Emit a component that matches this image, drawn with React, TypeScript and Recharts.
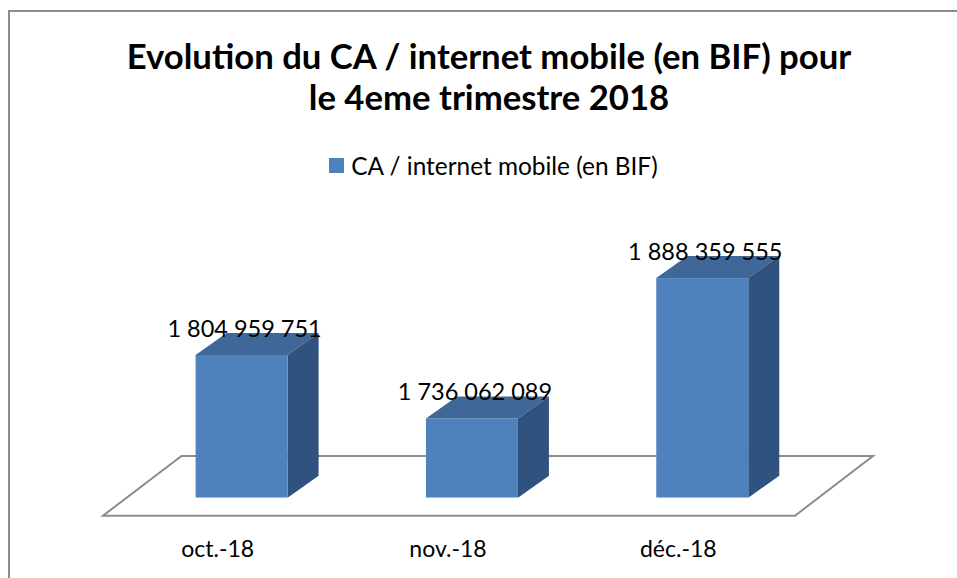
import { BarChart, Bar, XAxis, YAxis, Legend, LabelList, usePlotArea } from 'recharts';

const months = ['oct.-18', 'nov.-18', 'déc.-18'];
const revenue = [1804959751, 1736062089, 1888359555];
const seriesName = 'CA / internet mobile (en BIF)';
const titleLines = ['Evolution du CA / internet mobile (en BIF) pour', 'le 4eme trimestre 2018'];
const yDomain = [1650000000, 1950000000];

const data = months.map((month, i) => ({ month, value: revenue[i] }));

const FONT = 'Lato, "Open Sans", sans-serif';
const FRONT = '#4f81bd';
const TOP = '#3f6797';
const SIDE = '#30527e';
const DX = 31;
const DY = 22;

// groups digits by thousands with a space, like the french excel output
const fmt = (v: number) => String(v).replace(/\B(?=(\d{3})+(?!\d))/g, ' ');

function Box3D(props: any) {
    const { x, y, width, height } = props;
    const r = x + width;
    const b = y + height;
    return (
        <g>
            <path d={`M${x},${y} L${x + DX},${y - DY} L${r + DX},${y - DY} L${r},${y} Z`} fill={TOP} />
            <path d={`M${r},${y} L${r + DX},${y - DY} L${r + DX},${b - DY} L${r},${b} Z`} fill={SIDE} />
            <rect x={x} y={y} width={width} height={height} fill={FRONT} />
        </g>
    );
}

function Floor() {
    const area = usePlotArea();
    if (!area) return null;
    const bottom = area.y + area.height;
    const left = area.x;
    const right = area.x + area.width;
    const pts = [
        [left - 23.5, bottom + 18],
        [right - 22.5, bottom + 18],
        [right + 55.5, bottom - 41.7],
        [left + 55, bottom - 41.7],
    ];
    return (
        <polygon
            points={pts.map((p) => p.join(',')).join(' ')}
            fill="none"
            stroke="#8c8c8c"
            strokeWidth={2}
        />
    );
}

const MonthTick = (props: any) => (
    <text x={props.x - 24} y={props.y + 51} textAnchor="middle" fontFamily={FONT} fontSize={23} fill="#000">
        {props.payload.value}
    </text>
);

const ValueLabel = (props: any) => (
    <text x={props.x + props.width / 2 + 3} y={props.y - 18} textAnchor="middle" fontFamily={FONT} fontSize={23.5} fill="#000">
        {fmt(props.value)}
    </text>
);

const LegendContent = () => (
    <div style={{ display: 'flex', alignItems: 'center', justifyContent: 'center', fontFamily: FONT, fontSize: 24.4, color: '#000' }}>
        <span style={{ width: 15, height: 15, background: FRONT, marginRight: 7, display: 'inline-block' }} />
        <span>{seriesName}</span>
    </div>
);

export default function App() {
    return (
        <div style={{ position: 'fixed', left: 0, top: 0, width: 957, height: 578, background: '#fff', overflow: 'hidden' }}>
            <div
                style={{
                    position: 'absolute',
                    left: 8,
                    top: 10,
                    width: 949,
                    height: 568,
                    borderLeft: '2px solid #8c8c8c',
                    borderTop: '2px solid #8c8c8c',
                    boxSizing: 'border-box',
                }}
            />
            <div
                style={{
                    position: 'absolute',
                    left: 20,
                    top: 35,
                    width: 938,
                    textAlign: 'center',
                    fontFamily: FONT,
                    fontWeight: 700,
                    fontSize: 34.7,
                    lineHeight: '41px',
                    color: '#000',
                }}
            >
                {titleLines.map((t) => (
                    <div key={t}>{t}</div>
                ))}
            </div>
            <div style={{ position: 'absolute', left: 0, top: 0 }}>
                <BarChart
                    width={957}
                    height={578}
                    data={data}
                    margin={{ top: 221.3, right: 139.5, left: 126.5, bottom: 0 }}
                    barCategoryGap="30%"
                >
                    <Floor />
                    <XAxis dataKey="month" axisLine={false} tickLine={false} height={80.3} tick={<MonthTick />} interval={0} />
                    <YAxis hide domain={yDomain} allowDataOverflow />
                    <Legend
                        verticalAlign="middle"
                        align="center"
                        content={<LegendContent />}
                        wrapperStyle={{ top: 151, left: 15, width: 957 }}
                    />
                    <Bar dataKey="value" name={seriesName} shape={<Box3D />} isAnimationActive={false}>
                        <LabelList dataKey="value" content={<ValueLabel />} />
                    </Bar>
                </BarChart>
            </div>
        </div>
    );
}
